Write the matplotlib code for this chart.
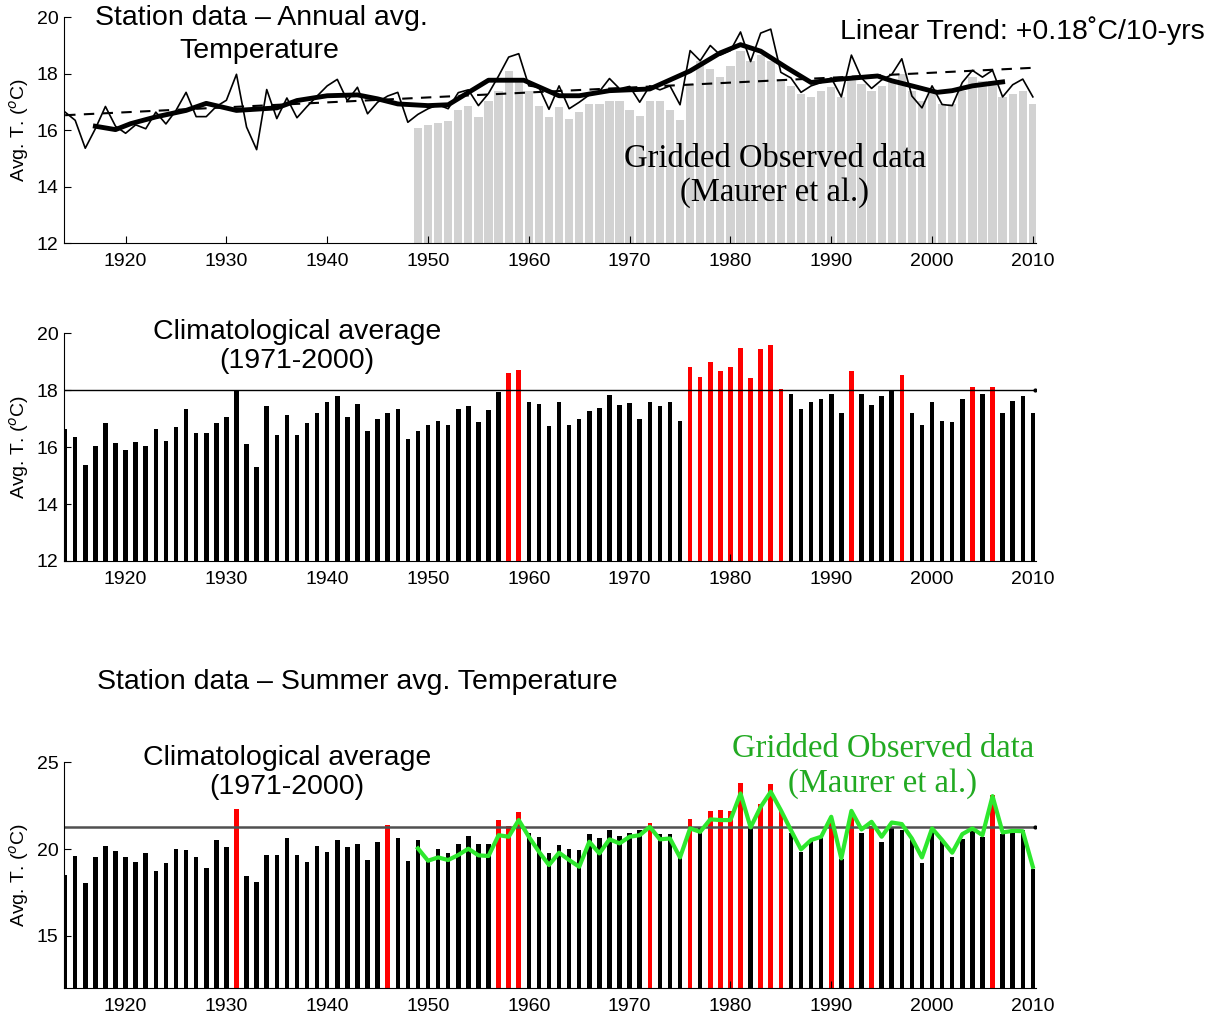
# Temperatura de estación: anual y de verano (1914-2010)
import numpy as np
import matplotlib
matplotlib.use("Agg")
import matplotlib.pyplot as plt

plt.rcParams.update({"font.family": ["Liberation Sans", "DejaVu Sans"],
                     "xtick.direction": "in", "ytick.direction": "in"})

years = list(range(1914, 2011))
annual = [16.64, 16.35, 15.36, 16.05, 16.84, 16.14, 15.89, 16.19, 16.05, 16.64,
          16.22, 16.70, 17.34, 16.48, 16.48, 16.84, 17.06, 17.98, 16.11, 15.31,
          17.44, 16.41, 17.14, 16.44, 16.84, 17.21, 17.57, 17.80, 17.04, 17.52,
          16.58, 16.99, 17.21, 17.34, 16.28, 16.56, 16.76, 16.90, 16.76, 17.33,
          17.43, 16.87, 17.30, 17.92, 18.59, 18.71, 17.57, 17.52, 16.74, 17.57,
          16.76, 16.99, 17.25, 17.37, 17.83, 17.47, 17.55, 16.99, 17.57, 17.43,
          17.57, 16.90, 18.82, 18.46, 19.00, 18.66, 18.82, 19.48, 18.43, 19.44,
          19.58, 18.05, 17.85, 17.34, 17.57, 17.69, 17.85, 17.18, 18.66, 17.85,
          17.48, 17.78, 17.97, 18.53, 17.21, 16.79, 17.57, 16.91, 16.87, 17.69,
          18.12, 17.88, 18.12, 17.18, 17.61, 17.81, 17.18]
summer = [18.51, 19.62, 18.07, 19.52, 20.17, 19.87, 19.52, 19.25, 19.79, 18.75,
          19.18, 20.02, 19.92, 19.56, 18.91, 20.52, 20.13, 22.30, 18.45, 18.12,
          19.67, 19.64, 20.63, 19.67, 19.25, 20.17, 19.81, 20.52, 20.13, 20.29,
          19.35, 20.42, 21.38, 20.63, 19.31, 20.54, 19.45, 20.00, 19.75, 20.31,
          20.75, 20.31, 20.31, 21.65, 21.34, 22.15, 20.90, 20.69, 19.79, 20.25,
          20.02, 19.92, 20.86, 20.65, 21.07, 20.77, 20.94, 21.07, 21.53, 20.84,
          20.86, 19.81, 21.74, 21.23, 22.22, 22.26, 22.20, 23.81, 21.20, 22.62,
          23.74, 22.24, 20.90, 19.81, 20.48, 20.61, 21.48, 19.41, 21.86, 20.90,
          21.35, 20.38, 21.25, 21.07, 20.65, 19.18, 20.99, 20.46, 19.56, 20.57,
          21.03, 20.71, 23.10, 20.86, 20.92, 21.07, 18.83]

grid_years = list(range(1949, 2011))
grid_annual = [16.06, 16.18, 16.26, 16.33, 16.70, 16.84, 16.47, 17.05, 17.40, 18.10,
               17.69, 17.40, 16.87, 16.47, 16.82, 16.41, 16.64, 16.93, 16.93, 17.05,
               17.05, 16.70, 16.52, 17.05, 17.05, 16.70, 16.35, 17.63, 18.45, 18.16,
               17.87, 18.27, 18.80, 18.45, 18.68, 18.45, 17.75, 17.57, 17.28, 17.17,
               17.40, 17.52, 17.17, 17.80, 17.63, 17.40, 17.57, 17.75, 17.98, 17.40,
               17.05, 17.34, 16.93, 16.93, 17.40, 17.87, 17.75, 17.75, 17.17, 17.28,
               17.40, 16.93]
grid_summer = [20.04, 19.33, 19.52, 19.37, 19.66, 20.02, 19.64, 19.60, 20.80, 20.71,
               21.67, 20.71, 19.85, 19.08, 19.79, 19.37, 18.98, 20.42, 19.75, 20.56,
               20.33, 20.71, 20.80, 21.28, 20.56, 20.61, 19.52, 21.19, 20.99, 21.71,
               21.67, 21.67, 23.20, 21.25, 22.43, 23.30, 22.24, 21.09, 19.98, 20.52,
               20.71, 21.86, 19.46, 22.20, 21.13, 21.57, 20.71, 21.53, 21.44, 20.61,
               19.52, 21.19, 20.52, 19.79, 20.86, 21.19, 20.80, 23.05, 20.96, 21.05,
               21.03, 18.98]

# curva suavizada
smooth_years = [1917, 1919, 1920.5, 1923, 1926, 1928, 1931, 1935, 1937, 1940, 1943,
                1945, 1947, 1950, 1952, 1956, 1959.5, 1963, 1965, 1968, 1972, 1976,
                1979, 1981, 1983, 1985.6, 1988, 1990.6, 1994.6, 1996, 1998, 2000.5,
                2002, 2004, 2007]
smooth_vals = [16.14, 16.02, 16.23, 16.47, 16.70, 16.95, 16.70, 16.79, 17.05, 17.22, 17.25,
               17.11, 16.93, 16.87, 16.90, 17.77, 17.77, 17.22, 17.22, 17.40, 17.46, 18.10,
               18.74, 19.03, 18.80, 18.21, 17.69, 17.80, 17.92, 17.75, 17.57, 17.34,
               17.40, 17.57, 17.71]

trend_years = [1914, 2010]
trend_vals = [16.53, 18.21]

clim_annual = 18.0
clim_summer = 21.3

XL = (1913.85, 2010.3)


def estilo(ax, ylim, yticks):
    ax.set_xlim(*XL)
    ax.set_ylim(*ylim)
    ax.set_yticks(yticks)
    ax.set_xticks(range(1920, 2011, 10))
    ax.spines[["top", "right"]].set_visible(False)
    ax.tick_params(labelsize=14, length=5)
    ax.tick_params(axis="x", pad=7)
    ax.set_ylabel("Avg. T. ($^o$C)", fontsize=14, labelpad=4)


fig = plt.figure(figsize=(12.23, 10.17), dpi=100)

# Panel 1 - anual con datos gridded
ax1 = fig.add_axes([0.052, 0.761, 0.795, 0.222])
ax1.bar(grid_years, [v - 12 for v in grid_annual], bottom=12, width=0.82, color="#d2d2d2")
ax1.plot(years, annual, color="black", lw=1.2)
ax1.plot(smooth_years, smooth_vals, color="black", lw=3.5)
ax1.plot(trend_years, trend_vals, color="black", lw=1.5, ls=(0, (5, 4)))
estilo(ax1, (12, 20), [12, 14, 16, 18, 20])
fig.text(0.078, 0.982, "Station data \u2013 Annual avg.", fontsize=20.5, ha="left", va="center")
fig.text(0.212, 0.950, "Temperature", fontsize=20.5, ha="center", va="center")
fig.text(0.985, 0.970, "Linear Trend: +0.18\u02daC/10-yrs", fontsize=20.5, ha="right", va="center")
ax1.text(1984.4, 14.38, "Gridded Observed data\n(Maurer et al.)", fontsize=23.5,
         family="Liberation Serif", ha="center", va="center", linespacing=1.15)

# Panel 2 - anual vs climatología
ax2 = fig.add_axes([0.052, 0.4484, 0.795, 0.224])
col2 = ["red" if v > clim_annual else "black" for v in annual]
ax2.bar(years, [v - 12 for v in annual], bottom=12, width=0.45, color=col2)
ax2.plot([XL[0], 2010.2], [clim_annual, clim_annual], color="black", lw=1)
ax2.plot([2010.2], [clim_annual], marker=".", color="black", ms=4)
estilo(ax2, (12, 20), [12, 14, 16, 18, 20])
ax2.text(1937.0, 19.53, "Climatological average\n(1971-2000)", fontsize=20.5,
         ha="center", va="center", linespacing=1.15)

fig.text(0.079, 0.329, "Station data \u2013 Summer avg. Temperature", fontsize=20.5,
         ha="left", va="center")

# Panel 3 - verano
ax3 = fig.add_axes([0.052, 0.0285, 0.795, 0.222])
col3 = ["red" if v > clim_summer else "black" for v in summer]
ax3.bar(years, [v - 12 for v in summer], bottom=12, width=0.45, color=col3)
ax3.plot([XL[0], 2010.2], [clim_summer, clim_summer], color="#505050", lw=1.8)
ax3.plot([2010.2], [clim_summer], marker=".", color="black", ms=4)
ax3.plot(grid_years, grid_summer, color="#2ee82e", lw=3)
estilo(ax3, (12, 25), [15, 20, 25])
ax3.text(1936.0, 24.43, "Climatological average\n(1971-2000)", fontsize=20.5,
         ha="center", va="center", linespacing=1.15)
ax3.text(1995.1, 24.77, "Gridded Observed data\n(Maurer et al.)", fontsize=23.5,
         family="Liberation Serif", color="#22aa22", ha="center", va="center", linespacing=1.15)

fig.savefig("out.png", dpi=100)
